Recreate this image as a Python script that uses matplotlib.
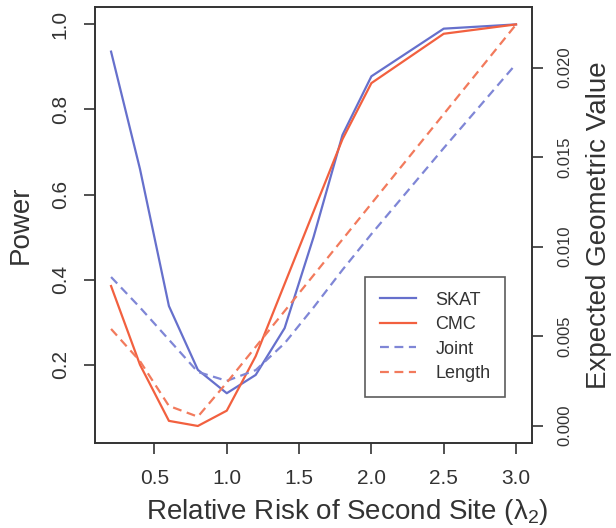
import matplotlib
matplotlib.use("Agg")
import matplotlib.pyplot as plt

plt.rcParams['font.family'] = ['Liberation Sans', 'DejaVu Sans']
plt.rcParams['mathtext.fontset'] = 'custom'
plt.rcParams['mathtext.rm'] = 'Liberation Sans'

# relative risk of second site
rr = [0.2, 0.4, 0.6, 0.8, 1.0, 1.2, 1.4, 1.6, 1.8, 2.0, 2.5, 3.0]

# power (left axis)
skat = [0.936, 0.66, 0.338, 0.188, 0.133, 0.176, 0.286, 0.50, 0.74, 0.878, 0.99, 1.0]
cmc = [0.385, 0.20, 0.068, 0.056, 0.092, 0.22, 0.39, 0.56, 0.73, 0.862, 0.978, 1.0]

# expected geometric value (right axis)
joint = [0.0083, 0.0066, 0.0048, 0.0030, 0.0025, 0.0031, 0.0046, 0.0066, 0.0087, 0.0107, 0.0155, 0.0202]
length = [0.0054, 0.0036, 0.0011, 0.0005, 0.0024, 0.0044, 0.0064, 0.0084, 0.0104, 0.0124, 0.0174, 0.0224]

blue = '#6670cc'
red = '#f2603f'
txt = '#333333'

fig = plt.figure(figsize=(6.16, 5.28), dpi=100)
ax = fig.add_axes([0.154, 0.161, 0.71, 0.825])
ax2 = ax.twinx()

l1, = ax.plot(rr, skat, color=blue, lw=1.6, label='SKAT')
l2, = ax.plot(rr, cmc, color=red, lw=1.6, label='CMC')
l3, = ax2.plot(rr, joint, color='#7f86d6', lw=1.6, ls=(0, (4, 2.5)), label='Joint')
l4, = ax2.plot(rr, length, color='#f27a5c', lw=1.6, ls=(0, (4, 2.5)), label='Length')

ax.set_xlim(0.088, 3.112)
ax.set_ylim(0.016, 1.040)
ax2.set_ylim(-0.00097, 0.02336)

ax.set_xticks([0.5, 1.0, 1.5, 2.0, 2.5, 3.0])
ax.set_yticks([0.2, 0.4, 0.6, 0.8, 1.0])
ax2.set_yticks([0.0, 0.005, 0.010, 0.015, 0.020])
ax2.set_yticklabels(['0.000', '0.005', '0.010', '0.015', '0.020'])

ax.tick_params(axis='x', direction='out', length=8, width=1.2, pad=11,
               labelsize=15, colors=txt)
ax.tick_params(axis='y', direction='out', length=8, width=1.2, pad=10,
               labelsize=15, colors=txt, labelrotation=90)
for t in ax.get_yticklabels():
    t.set_va('center')
ax2.tick_params(axis='y', direction='out', length=8, width=1.2, pad=10,
                labelsize=12, colors=txt, labelrotation=90)
for t in ax2.get_yticklabels():
    t.set_va('center')

for a in (ax, ax2):
    for s in a.spines.values():
        s.set_color(txt)
        s.set_linewidth(1.2)

ax.set_xlabel('Relative Risk of Second Site (λ$_2$)', fontsize=20, color=txt, labelpad=7)
ax.xaxis.set_label_coords(0.577, -0.125)
ax.set_ylabel('Power', fontsize=20, color=txt, labelpad=12)
ax2.set_ylabel('Expected Geometric Value', fontsize=20, color=txt, labelpad=10)

leg = ax.legend(handles=[l1, l2, l3, l4], loc='lower right', bbox_to_anchor=(0.938, 0.106),
                fontsize=13, frameon=True, fancybox=False, handlelength=2.0,
                borderpad=0.8, labelspacing=0.42, handletextpad=1.1, borderaxespad=0)
leg.get_frame().set_edgecolor(txt)
leg.get_frame().set_linewidth(1.2)
for t in leg.get_texts():
    t.set_color(txt)

fig.savefig('out.png', dpi=100)
